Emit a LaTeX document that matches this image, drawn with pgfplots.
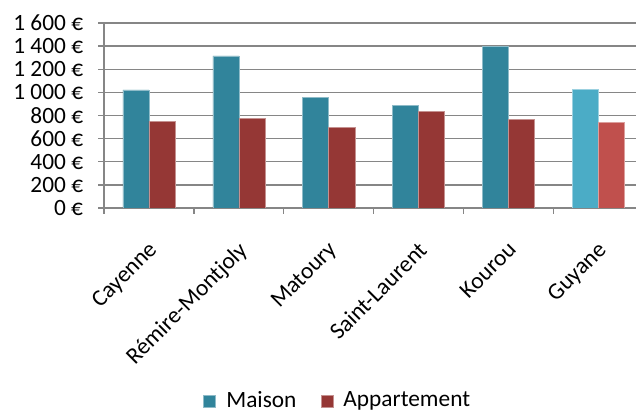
\documentclass[border=0pt]{standalone}
\usepackage{pgfplots}
\pgfplotsset{compat=1.18}
\usepackage{fontspec}
\setmainfont{Carlito}
\definecolor{maison}{HTML}{31849B}
\definecolor{appart}{HTML}{953735}
\definecolor{maisonG}{HTML}{4BACC6}
\definecolor{appartG}{HTML}{C0504D}
\definecolor{axgray}{HTML}{868686}
\begin{document}
\fontsize{17.5pt}{20pt}\selectfont
\begin{tikzpicture}
\begin{axis}[
  scale only axis, width=399pt, height=138.75pt,
  xmin=-0.5, xmax=5.418, ymin=0, ymax=1600,
  axis x line*=bottom, axis y line*=left,
  axis line style={draw=axgray, line width=1.1pt},
  ytick={0,200,...,1600},
  yticklabels={0 €,200 €,400 €,600 €,800 €,1 000 €,1 200 €,1 400 €,1 600 €},
  ymajorgrids, grid style={axgray, line width=1.1pt},
  tick align=outside, major tick length=4.5pt,
  tick style={axgray, line width=1pt},
  xtick={-0.5,0.5,...,4.5}, xticklabels={},
  extra x ticks={0,1,2,3,4,5},
  extra x tick labels={Cayenne,Rémire-Montjoly,Matoury,Saint-Laurent,Kourou,Guyane},
  extra x tick style={major tick length=0pt,
     xticklabel style={rotate=45, anchor=north east, inner sep=1pt, yshift=-15pt, xshift=-17pt}},
  yticklabel style={inner sep=0pt, xshift=-11pt},
  ybar,
  legend style={at={(0.44,-1.043)}, anchor=center, draw=none, fill=none,
     legend columns=2, font=\fontsize{17.5pt}{20pt}\selectfont,
     /tikz/every even column/.append style={column sep=16pt}},
  legend image code/.code={\fill[#1] (0pt,-4.5pt) rectangle (9pt,4.5pt); \path[draw=none,fill=none] (0pt,0pt) rectangle (15pt,0.1pt);},
]
\addplot[bar width=0.29, bar shift=-0.145, fill=maison, draw=maison!55!white, line width=0.4pt]
  coordinates {(0,1021) (1,1316) (2,958) (3,885) (4,1400)};
\addlegendentry{Maison}
\addplot[bar width=0.29, bar shift=0.145, fill=appart, draw=appart!55!white, line width=0.4pt]
  coordinates {(0,752) (1,778) (2,698) (3,836) (4,767)};
\addlegendentry{Appartement}
\addplot[forget plot, bar width=0.29, bar shift=-0.145, fill=maisonG, draw=maisonG!55!white, line width=0.4pt]
  coordinates {(5,1030)};
\addplot[forget plot, bar width=0.29, bar shift=0.145, fill=appartG, draw=appartG!55!white, line width=0.4pt]
  coordinates {(5,744)};
\coordinate (TL) at (rel axis cs:-0.1955,1.1243);
\coordinate (BR) at (rel axis cs:1,-1.1027);
\end{axis}
\pgfresetboundingbox
\path[use as bounding box] (TL) rectangle (BR);
\end{tikzpicture}
\end{document}
